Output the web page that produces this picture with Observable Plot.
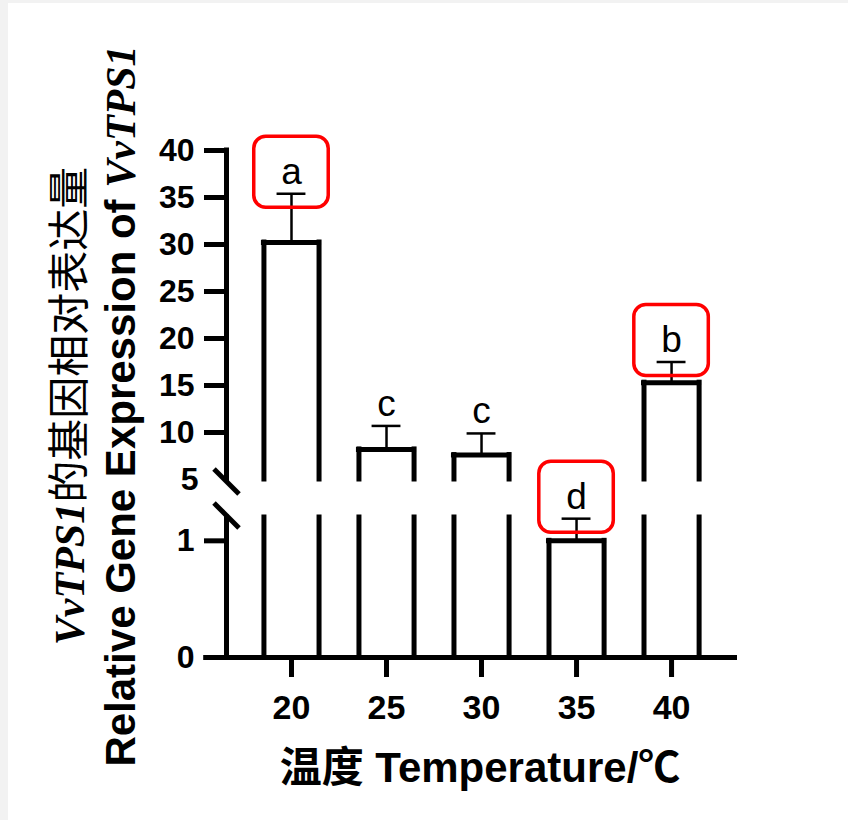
<!DOCTYPE html>
<html><head><meta charset="utf-8">
<script src="https://cdn.jsdelivr.net/npm/d3@7"></script>
<script src="https://cdn.jsdelivr.net/npm/@observablehq/plot@0.6"></script>
<style>
html,body{margin:0;padding:0;background:#f2f2f2;}
#wrap{position:relative;width:848px;height:820px;overflow:hidden;}
#panel{position:absolute;left:8px;top:3px;right:0;bottom:0;background:#fff;}
.layer{position:absolute;left:0;top:0;}
</style></head><body>
<div id="wrap"><div id="panel"></div><div id="upper" class="layer"></div><div id="lower" class="layer"></div></div>
<script>
// ---- data ----
const temperatures = [20, 25, 30, 35, 40];
const means = [30.2, 8.2, 7.6, 1.0, 15.3];
const sds = [5.2, 2.5, 2.3, 0.19, 2.2];
const letters = ["a", "c", "c", "d", "b"];
const highlighted = ["a", "d", "b"];
const yTicksUpper = [10, 15, 20, 25, 30, 35, 40];
const yTicksLower = [0, 1];
const yBreakLabel = [5];
const xTicks = [20, 25, 30, 35, 40];
const breakLow = 1.2, breakHigh = 5, yMax = 40;

const data = temperatures.map((t, i) => ({t, mean: means[i], top: means[i] + sds[i], letter: letters[i]}));

// ---- layout ----
const X0 = 16.58, X1 = 43.47;
const BAR_HALF = 1.45, CAP_HALF = 0.76, BOX_HALF = 1.96;
const sans = "'Liberation Sans', Arial, 'Noto Sans CJK SC', sans-serif";
const serif = "'Liberation Serif', 'Times New Roman', serif";
const slash = {draw(ctx, size) { const r = Math.sqrt(size / Math.PI); ctx.moveTo(-r, -r); ctx.lineTo(r, r); }};
const fmt = d => String(d);

const common = {
  width: 848, height: 820, marginLeft: 226, marginRight: 111,
  style: {fontFamily: sans, background: "transparent", overflow: "visible", color: "black"}
};

function segmentMarks(lo, hi, isLowest) {
  const inSeg = data.filter(d => d.mean > lo);
  const topsHere = data.filter(d => d.mean > lo && d.mean <= hi);
  const segErr = data.filter(d => (isLowest ? d.top <= hi : d.mean > lo));
  const side = dx => Plot.ruleX(inSeg, {x: d => d.t + dx, y1: lo, y2: d => Math.min(d.mean, hi), stroke: "black", strokeWidth: 5, strokeLinecap: "square"});
  return [
    side(-BAR_HALF), side(BAR_HALF),
    Plot.ruleY(topsHere, {y: "mean", x1: d => d.t - BAR_HALF, x2: d => d.t + BAR_HALF, stroke: "black", strokeWidth: 5, strokeLinecap: "square"}),
    Plot.ruleX(segErr, {x: "t", y1: "mean", y2: "top", stroke: "black", strokeWidth: 2.5}),
    Plot.ruleY(segErr, {y: "top", x1: d => d.t - CAP_HALF, x2: d => d.t + CAP_HALF, stroke: "black", strokeWidth: 2.5}),
    Plot.ruleX([X0], {y1: lo, y2: hi, stroke: "black", strokeWidth: 5, strokeLinecap: "square"}),
    Plot.text(segErr, {x: "t", y: "top", text: "letter", dy: -10, lineAnchor: "bottom", textAnchor: "middle", fontSize: 37, fill: "black", fontFamily: sans}),
    Plot.rect(segErr.filter(d => highlighted.includes(d.letter)), {x1: d => d.t - BOX_HALF, x2: d => d.t + BOX_HALF, y1: "top", y2: "top", insetTop: -57, insetBottom: -14, rx: 12, fill: "none", stroke: "#ff0000", strokeWidth: 3.5})
  ];
}

const upper = Plot.plot({
  ...common, marginTop: 150, marginBottom: 820 - 479,
  x: {domain: [X0, X1], label: null, axis: null},
  y: {domain: [breakHigh, yMax], label: null, zero: false, axis: null},
  marks: [
    ...segmentMarks(breakHigh, yMax, false),
    Plot.axisY(yTicksUpper, {anchor: "left", tickSize: 22, tickPadding: 10, strokeWidth: 5, fontSize: 32, fontWeight: "bold", tickFormat: fmt, label: null}),
    Plot.axisY(yBreakLabel, {anchor: "left", tickSize: 0, tickPadding: 28, fontSize: 32, fontWeight: "bold", tickFormat: fmt, label: null}),
    Plot.dot([breakHigh], {y: d => d, frameAnchor: "left", dy: 2, symbol: slash, r: 12.5, fill: "none", stroke: "black", strokeWidth: 5})
  ]
});

const lower = Plot.plot({
  ...common, marginTop: 517, marginBottom: 163,
  x: {domain: [X0, X1], label: null},
  y: {domain: [0, breakLow], label: null, zero: false},
  marks: [
    ...segmentMarks(0, breakLow, true),
    Plot.ruleY([0], {x1: X0 - 1.2, x2: X1, stroke: "black", strokeWidth: 5}),
    Plot.axisY(yTicksLower, {anchor: "left", tickSize: 22, tickPadding: 10, strokeWidth: 5, fontSize: 32, fontWeight: "bold", tickFormat: fmt, label: null}),
    Plot.axisX(xTicks, {anchor: "bottom", tickSize: 20, tickPadding: 17, strokeWidth: 5, fontSize: 34, fontWeight: "bold", tickFormat: fmt, label: null}),
    Plot.dot([breakLow], {y: d => d, frameAnchor: "left", dy: -2, symbol: slash, r: 12.5, fill: "none", stroke: "black", strokeWidth: 5})
  ]
});

document.getElementById("upper").appendChild(upper);
document.getElementById("lower").appendChild(lower);

const svg = d3.select(lower);
svg.append("text").attr("x", 480).attr("y", 782).attr("text-anchor", "middle")
  .attr("font-size", 42).attr("font-weight", "bold").attr("fill", "black").text("温度 Temperature/℃");

const t2 = svg.append("text").attr("transform", "translate(135,406) rotate(-90)").attr("text-anchor", "middle")
  .attr("font-size", 42).attr("font-weight", "bold").attr("fill", "black").style("white-space", "pre");
t2.append("tspan").text("Relative Gene Expression of ");
t2.append("tspan").attr("font-family", serif).attr("font-style", "italic").text("VvTPS1");

const t1 = svg.append("text").attr("transform", "translate(84,406) rotate(-90)").attr("text-anchor", "middle")
  .attr("font-size", 42).attr("fill", "black").style("white-space", "pre");
t1.append("tspan").attr("font-family", serif).attr("font-style", "italic").attr("font-weight", "bold").text("VvTPS1");
t1.append("tspan").attr("font-family", "'Noto Sans CJK SC', sans-serif").text("的基因相对表达量");
</script>
</body></html>
